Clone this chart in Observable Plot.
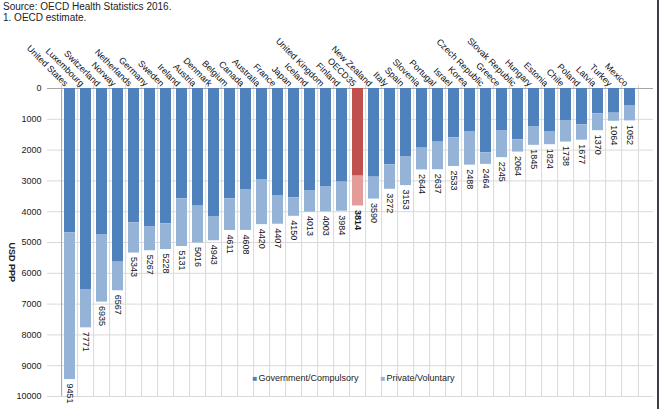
<!DOCTYPE html>
<html>
<head>
<meta charset="utf-8">
<script src="https://cdn.jsdelivr.net/npm/d3@7"></script>
<script src="https://cdn.jsdelivr.net/npm/@observablehq/plot@0.6"></script>
<style>
html,body{margin:0;padding:0;background:#fff;width:660px;height:409px;overflow:hidden;font-family:"Liberation Sans",Arial,sans-serif;position:relative;}
#notes{height:24px;font-size:10px;line-height:11px;color:#222;padding-left:3px;padding-top:1px;box-sizing:border-box;}
#edge{position:absolute;left:657px;top:0;width:2px;height:409px;background:#3a3f4a;}
</style>
</head>
<body>
<div id="notes"><div>Source: OECD Health Statistics 2016.</div><div>1. OECD estimate.</div></div>
<div id="chart"></div>
<div id="edge"></div>
<script>
const countries = ["United States","Luxembourg","Switzerland","Norway","Netherlands","Germany","Sweden","Ireland","Austria","Denmark","Belgium","Canada","Australia","France","Japan","Iceland","United Kingdom","Finland","OECD35","New Zealand","Italy","Spain","Slovenia","Portugal","Israel","Korea","Czech Republic","Greece","Slovak Republic","Hungary","Estonia","Chile","Poland","Latvia","Turkey","Mexico"];
const totals = [9451,7771,6935,6567,5343,5267,5228,5131,5016,4943,4611,4608,4420,4407,4150,4013,4003,3984,3814,3590,3272,3153,2644,2637,2533,2488,2464,2245,2064,1845,1824,1738,1677,1370,1064,1052];
const government = [4690,6526,4740,5638,4362,4480,4395,3582,3820,4156,3582,3279,2955,3474,3550,3312,3182,3041,2846,2879,2478,2208,1937,1742,1602,1396,2089,1364,1667,1234,1396,1039,1180,822,801,552];
const yTicks = [0,1000,2000,3000,4000,5000,6000,7000,8000,9000,10000];
const legendLabels = ["Government/Compulsory","Private/Voluntary"];
const highlight = "OECD35";

const colors = {gov:"#4f81bd", priv:"#95b3d7", govHi:"#c0504d", privHi:"#e39c9a"};
const W = 660, H = 385, mL = 47, mR = 7, mT = 64, mB = 13;
const step = (W - mL - mR) / countries.length;
const rows = countries.map((c, i) => ({country: c, total: totals[i], gov: government[i]}));
const isHi = d => d.country === highlight;
const font = "'Liberation Sans', Arial, sans-serif";

const chart = Plot.plot({
  width: W, height: H,
  marginLeft: mL, marginRight: mR, marginTop: mT, marginBottom: mB,
  style: {fontFamily: font, fontSize: "9px", color: "#1a1a1a", background: "white"},
  x: {type: "band", domain: countries, paddingInner: 0.3, paddingOuter: 0.15, axis: null},
  y: {domain: [0, 10000], reverse: true, ticks: yTicks, tickSize: 0, tickPadding: 6, tickFormat: d => String(d), label: null},
  color: {type: "identity"},
  marks: [
    Plot.ruleY(yTicks, {stroke: "#d9d9d9"}),
    Plot.ruleX(countries, {x: d => d, dx: -step / 2, stroke: "#d9d9d9", insetTop: -3}),
    Plot.ruleX([countries[countries.length - 1]], {x: d => d, dx: step / 2, stroke: "#d9d9d9", insetTop: -3}),
    Plot.ruleY([0], {stroke: "#a6a6a6"}),
    Plot.ruleX([countries[0]], {x: d => d, dx: -step / 2, stroke: "#a6a6a6"}),
    Plot.barY(rows, {x: "country", y1: 0, y2: "gov", fill: d => isHi(d) ? colors.govHi : colors.gov}),
    Plot.barY(rows, {x: "country", y1: "gov", y2: "total", fill: d => isHi(d) ? colors.privHi : colors.priv}),
    Plot.text(rows.filter(d => !isHi(d)), {x: "country", y: "total", text: d => String(d.total), rotate: 90, textAnchor: "start", dy: 4, fill: "#111", fontSize: 9}),
    Plot.text(rows.filter(isHi), {x: "country", y: "total", text: d => String(d.total), rotate: 90, textAnchor: "start", dy: 4, fill: "#111", fontSize: 9, fontWeight: "bold"}),
    Plot.text(countries, {x: d => d, text: d => d, frameAnchor: "top", rotate: 45, textAnchor: "end", dy: -6, dx: -1, fill: "#111", fontSize: 9}),
    Plot.text(["USD PPP"], {text: d => d, frameAnchor: "left", dx: -36, rotate: 90, fontWeight: "bold", fontSize: 9, fill: "#222"}),
    Plot.text(["\u25A0"], {text: d => d, frameAnchor: "bottom-left", dx: 205, dy: -16, textAnchor: "start", fill: colors.gov, fontSize: 8}),
    Plot.text([legendLabels[0]], {text: d => d, frameAnchor: "bottom-left", dx: 211, dy: -16, textAnchor: "start", fill: "#222", fontSize: 9}),
    Plot.text(["\u25A0"], {text: d => d, frameAnchor: "bottom-left", dx: 333, dy: -16, textAnchor: "start", fill: colors.priv, fontSize: 8}),
    Plot.text([legendLabels[1]], {text: d => d, frameAnchor: "bottom-left", dx: 339, dy: -16, textAnchor: "start", fill: "#222", fontSize: 9})
  ]
});
document.getElementById("chart").appendChild(chart);
</script>
</body>
</html>
